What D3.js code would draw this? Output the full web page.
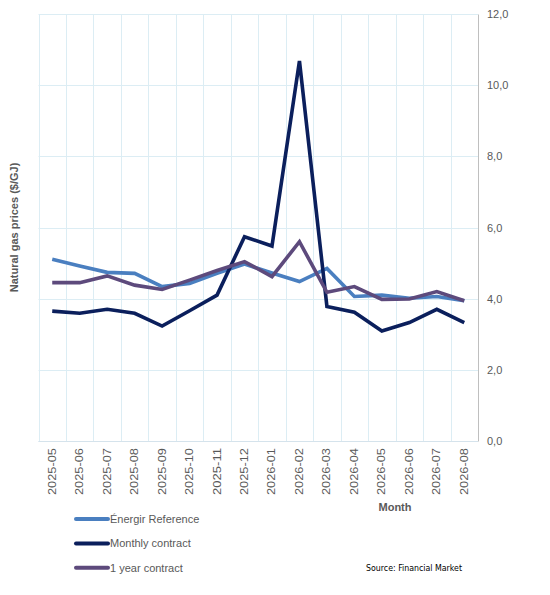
<!DOCTYPE html>
<html>
<head>
<meta charset="utf-8">
<script src="https://cdn.jsdelivr.net/npm/d3@7"></script>
<style>
  body { margin: 0; background: #fff; }
  text { font-family: "Liberation Sans", Arial, sans-serif; }
</style>
</head>
<body>
<div id="chart"></div>
<script>
const months = ["2025-05", "2025-06", "2025-07", "2025-08", "2025-09", "2025-10", "2025-11", "2025-12",
                "2026-01", "2026-02", "2026-03", "2026-04", "2026-05", "2026-06", "2026-07", "2026-08"];
const energirRef = [5.11, 4.92, 4.74, 4.71, 4.34, 4.43, 4.71, 4.97, 4.72, 4.48, 4.85, 4.06, 4.10, 4.01, 4.06, 3.94];
const monthlyContract = [3.65, 3.59, 3.70, 3.59, 3.23, 3.66, 4.10, 5.74, 5.48, 10.68, 3.78, 3.62, 3.09, 3.33, 3.70, 3.33];
const yearContract = [4.45, 4.45, 4.64, 4.38, 4.26, 4.52, 4.79, 5.04, 4.62, 5.60, 4.18, 4.34, 3.98, 3.99, 4.20, 3.94];
const yTicks = [0, 2, 4, 6, 8, 10, 12];

const series = [
    { name: "Énergir Reference", values: energirRef, color: "#4a7fc0" },
    { name: "Monthly contract", values: monthlyContract, color: "#0b1f5c" },
    { name: "1 year contract", values: yearContract, color: "#5d4a7c" }
];

const width = 550, height = 595;
const plot = { left: 38.5, right: 478, top: 14, bottom: 441 };

const svg = d3.select("#chart")
    .append("svg")
    .attr("width", width)
    .attr("height", height);

const x = d3.scaleBand()
    .domain(months)
    .range([plot.left, plot.right])
    .padding(0);

const y = d3.scaleLinear()
    .domain([0, 12])
    .range([plot.bottom, plot.top]);

// gridlines
const grid = svg.append("g").attr("stroke", "#dcedf4").attr("stroke-width", 1);
yTicks.forEach(t => {
    grid.append("line")
        .attr("x1", plot.left).attr("x2", plot.right)
        .attr("y1", Math.round(y(t)) + 0.5).attr("y2", Math.round(y(t)) + 0.5);
});
months.forEach(m => {
    grid.append("line")
        .attr("x1", Math.round(x(m)) + 0.5).attr("x2", Math.round(x(m)) + 0.5)
        .attr("y1", plot.top).attr("y2", plot.bottom);
});

// bottom axis line
svg.append("line")
    .attr("x1", plot.left).attr("x2", plot.right)
    .attr("y1", Math.round(plot.bottom) + 0.5).attr("y2", Math.round(plot.bottom) + 0.5)
    .attr("stroke", "#d5e3ec");

// right y axis
const yAxis = d3.axisRight(y)
    .tickValues(yTicks)
    .tickSize(0)
    .tickPadding(9)
    .tickFormat(d => d3.format(".1f")(d).replace(".", ","));

const yAxisGroup = svg.append("g")
    .attr("transform", `translate(${plot.right}, 0)`)
    .call(yAxis);
yAxisGroup.select(".domain").attr("stroke", "#bfbfbf");
yAxisGroup.selectAll("text")
    .attr("fill", "#595959")
    .style("font-size", "11px")
    .style("font-family", "Liberation Sans, Arial, sans-serif");

// bottom category labels
const xAxis = d3.axisBottom(x).tickSize(0);
const xAxisGroup = svg.append("g")
    .attr("transform", `translate(0, ${plot.bottom})`)
    .call(xAxis);
xAxisGroup.select(".domain").remove();
xAxisGroup.selectAll("text")
    .attr("transform", "rotate(-90)")
    .attr("text-anchor", "end")
    .attr("x", -7)
    .attr("y", 0)
    .attr("dy", "0.35em")
    .attr("fill", "#595959")
    .attr("textLength", 47)
    .attr("lengthAdjust", "spacingAndGlyphs")
    .style("font-size", "10px")
    .style("font-family", "Liberation Sans, Arial, sans-serif");

// lines
const line = d3.line()
    .x((d, i) => x(months[i]) + x.bandwidth() / 2)
    .y(d => y(d));

series.forEach(s => {
    svg.append("path")
        .datum(s.values)
        .attr("fill", "none")
        .attr("stroke", s.color)
        .attr("stroke-width", 3.6)
        .attr("stroke-linejoin", "miter")
        .attr("d", line);
});

// y title
svg.append("text")
    .attr("transform", `translate(18, ${(plot.top + plot.bottom) / 2}) rotate(-90)`)
    .attr("text-anchor", "middle")
    .attr("fill", "#595959")
    .style("font-size", "11px")
    .style("font-weight", "bold")
    .text("Natural gas prices ($/GJ)");

// x title
svg.append("text")
    .attr("x", 395)
    .attr("y", 511)
    .attr("text-anchor", "middle")
    .attr("fill", "#595959")
    .style("font-size", "11px")
    .style("font-weight", "bold")
    .text("Month");

// legend
const legend = svg.append("g");
series.forEach((s, i) => {
    const ly = 519 + i * 24.4;
    legend.append("line")
        .attr("x1", 76).attr("x2", 108)
        .attr("y1", ly).attr("y2", ly)
        .attr("stroke", s.color)
        .attr("stroke-width", 4)
        .attr("stroke-linecap", "round");
    legend.append("text")
        .attr("x", 110)
        .attr("y", ly)
        .attr("dy", "0.35em")
        .attr("fill", "#595959")
        .style("font-size", "11px")
        .text(s.name);
});

// source
svg.append("text")
    .attr("x", 366)
    .attr("y", 568)
    .attr("dy", "0.35em")
    .attr("fill", "#000")
    .attr("textLength", 96)
    .attr("lengthAdjust", "spacingAndGlyphs")
    .style("font-size", "9px")
    .style("font-family", "DejaVu Sans Condensed, DejaVu Sans, sans-serif")
    .text("Source: Financial Market");
</script>
</body>
</html>
